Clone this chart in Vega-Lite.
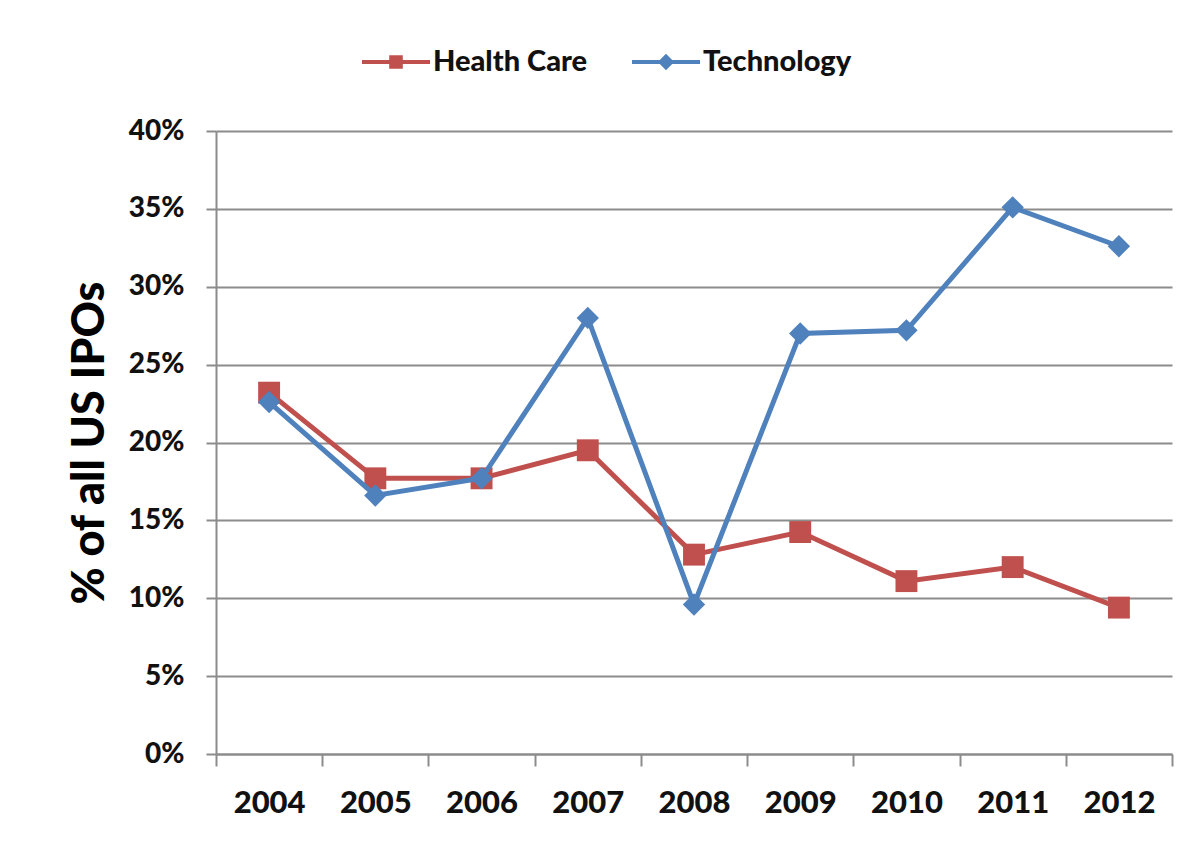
{
  "$schema": "https://vega.github.io/schema/vega-lite/v6.json",
  "width": 956,
  "height": 623,
  "autosize": {"type": "none"},
  "padding": {"left": 216, "top": 131, "right": 21, "bottom": 92},
  "background": "white",
  "config": {"view": {"stroke": null}, "font": "Lato"},
  "data": {
    "values": [
      {"year": "2004", "series": "Health Care", "share": 0.232},
      {"year": "2005", "series": "Health Care", "share": 0.177},
      {"year": "2006", "series": "Health Care", "share": 0.177},
      {"year": "2007", "series": "Health Care", "share": 0.195},
      {"year": "2008", "series": "Health Care", "share": 0.128},
      {"year": "2009", "series": "Health Care", "share": 0.1425},
      {"year": "2010", "series": "Health Care", "share": 0.111},
      {"year": "2011", "series": "Health Care", "share": 0.120},
      {"year": "2012", "series": "Health Care", "share": 0.094},
      {"year": "2004", "series": "Technology", "share": 0.226},
      {"year": "2005", "series": "Technology", "share": 0.166},
      {"year": "2006", "series": "Technology", "share": 0.177},
      {"year": "2007", "series": "Technology", "share": 0.280},
      {"year": "2008", "series": "Technology", "share": 0.096},
      {"year": "2009", "series": "Technology", "share": 0.270},
      {"year": "2010", "series": "Technology", "share": 0.272},
      {"year": "2011", "series": "Technology", "share": 0.351},
      {"year": "2012", "series": "Technology", "share": 0.326}
    ]
  },
  "encoding": {
    "x": {
      "field": "year",
      "type": "ordinal",
      "bandPosition": 0.5,
      "scale": {"type": "band", "paddingInner": 0, "paddingOuter": 0},
      "axis": {
        "title": null,
        "labelAngle": 0,
        "labelFont": "Lato",
        "labelFontSize": 31,
        "labelFontWeight": 900,
        "labelColor": "#111111",
        "labelPadding": 22,
        "tickBand": "extent",
        "tickSize": 12,
        "tickColor": "#8c8c8c",
        "tickWidth": 2,
        "domainColor": "#8c8c8c",
        "domainWidth": 2,
        "grid": false
      }
    },
    "y": {
      "field": "share",
      "type": "quantitative",
      "scale": {"domain": [0, 0.4]},
      "axis": {
        "title": "% of all US IPOs",
        "format": ".0%",
        "values": [0, 0.05, 0.1, 0.15, 0.2, 0.25, 0.3, 0.35, 0.4],
        "labelFont": "Lato",
        "labelFontSize": 28,
        "labelFontWeight": 900,
        "labelColor": "#111111",
        "labelPadding": 22,
        "tickSize": 10,
        "tickColor": "#8c8c8c",
        "tickWidth": 2,
        "domainColor": "#8c8c8c",
        "domainWidth": 2,
        "grid": true,
        "gridColor": "#8c8c8c",
        "gridWidth": 2,
        "titleFont": "Lato",
        "titleFontSize": 45,
        "titleFontWeight": 900,
        "titleColor": "black",
        "titlePadding": 16
      }
    }
  },
  "layer": [
    {
      "transform": [{"filter": "datum.series === 'Health Care'"}],
      "mark": {"type": "line", "strokeWidth": 5, "color": "#C0504D"},
      "encoding": {}
    },
    {
      "transform": [{"filter": "datum.series === 'Health Care'"}],
      "mark": {"type": "point", "shape": "square", "filled": true, "opacity": 1, "size": 480, "color": "#C0504D"},
      "encoding": {}
    },
    {
      "transform": [{"filter": "datum.series === 'Technology'"}],
      "mark": {"type": "line", "strokeWidth": 5, "color": "#4F81BD"},
      "encoding": {}
    },
    {
      "transform": [{"filter": "datum.series === 'Technology'"}],
      "mark": {"type": "point", "shape": "diamond", "filled": true, "opacity": 1, "size": 500, "color": "#4F81BD"},
      "encoding": {}
    },
    {
      "mark": {"type": "point", "filled": true, "opacity": 0},
      "encoding": {
        "color": {
          "field": "series",
          "type": "nominal",
          "scale": {"domain": ["Health Care", "Technology"], "range": ["#C0504D", "#4F81BD"]},
          "legend": {
            "title": null,
            "orient": "none",
            "legendX": 146,
            "legendY": -103,
            "direction": "horizontal",
            "padding": 0,
            "labelFont": "Lato",
            "labelFontSize": 29,
            "labelFontWeight": 900,
            "labelColor": "#111111",
            "labelOffset": 3,
            "columnPadding": 44,
            "symbolSize": 4624,
            "symbolStrokeWidth": 0,
            "symbolOpacity": 1
          }
        },
        "shape": {
          "field": "series",
          "type": "nominal",
          "scale": {
            "domain": ["Health Care", "Technology"],
            "range": [
              "M-1,-0.06H1V0.06H-1Z M-0.2,-0.2H0.2V0.2H-0.2Z",
              "M-1,-0.06H1V0.06H-1Z M-0.24,0L0,-0.24L0.24,0L0,0.24Z"
            ]
          },
          "legend": {
            "title": null,
            "orient": "none",
            "legendX": 146,
            "legendY": -103,
            "direction": "horizontal",
            "padding": 0,
            "labelFont": "Lato",
            "labelFontSize": 29,
            "labelFontWeight": 900,
            "labelColor": "#111111",
            "labelOffset": 3,
            "columnPadding": 44,
            "symbolSize": 4624,
            "symbolStrokeWidth": 0,
            "symbolOpacity": 1
          }
        }
      }
    }
  ]
}
